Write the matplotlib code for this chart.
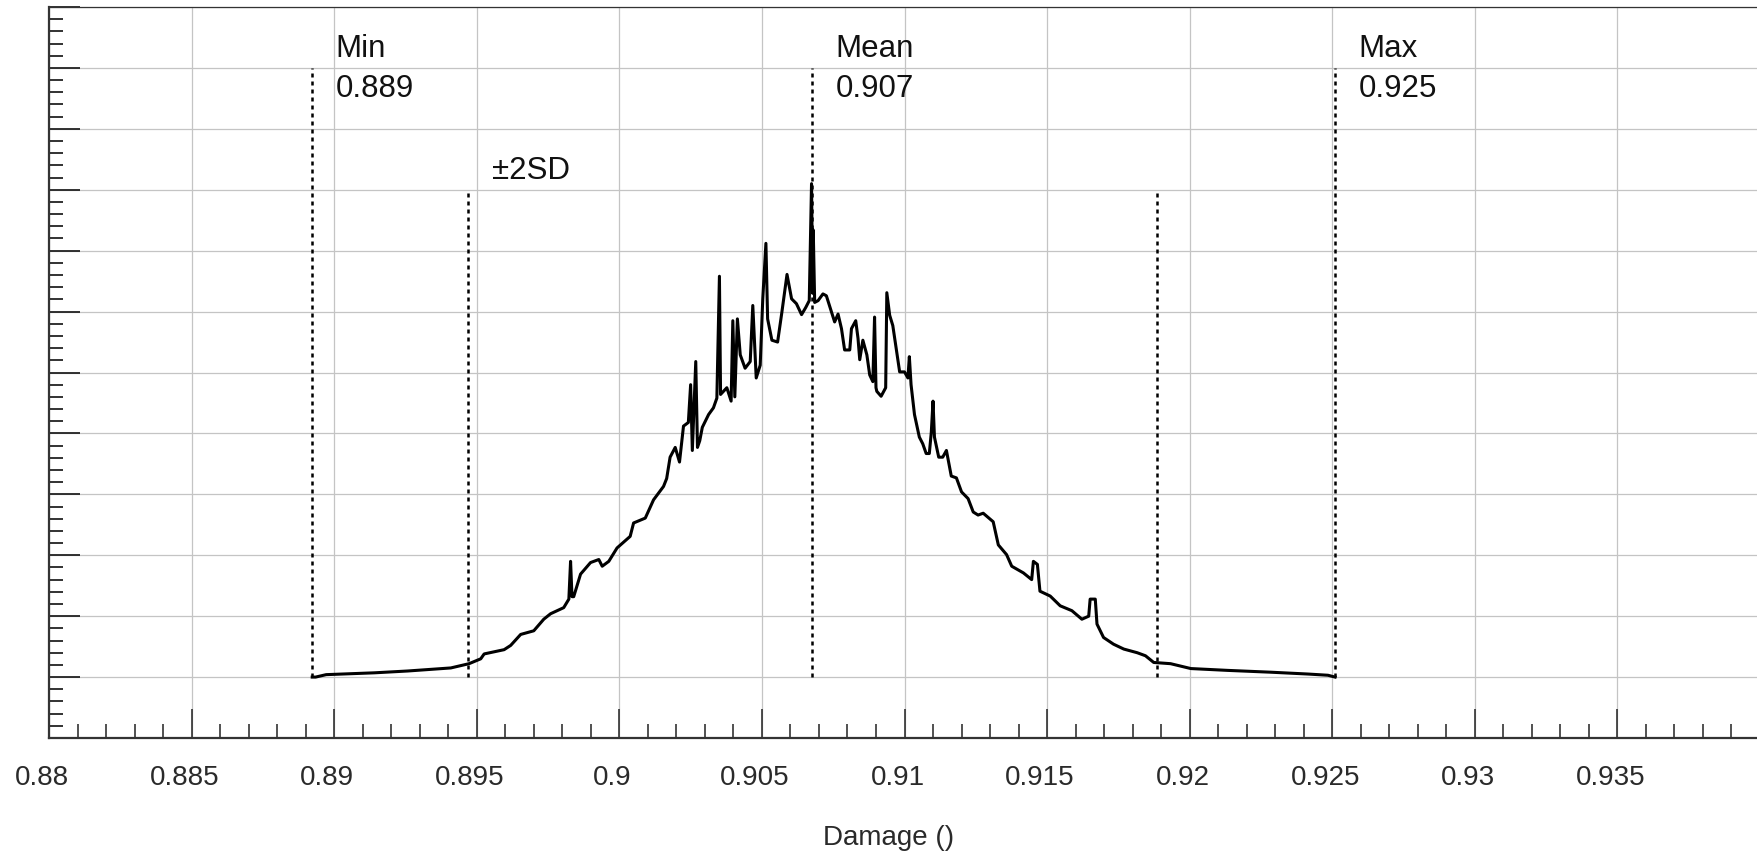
import numpy as np
import matplotlib
matplotlib.use("Agg")
import matplotlib.pyplot as plt
from matplotlib.ticker import MultipleLocator, FixedLocator, NullFormatter
from matplotlib.transforms import ScaledTranslation

# ---- data -----------------------------------------------------------------
damage = [
    0.88923, 0.88935, 0.88972, 0.89141, 0.89258, 0.89409, 0.89473, 0.89514, 0.89526, 0.89596,
    0.89619, 0.89654, 0.89700, 0.89735, 0.89759, 0.89805, 0.89823, 0.89829, 0.89834, 0.89840,
    0.89864, 0.89899, 0.89928, 0.89940, 0.89963, 0.89992, 0.90038, 0.90050, 0.90091, 0.90120,
    0.90155, 0.90166, 0.90178, 0.90196, 0.90211, 0.90225, 0.90242, 0.90250, 0.90256, 0.90268,
    0.90274, 0.90282, 0.90291, 0.90313, 0.90330, 0.90342, 0.90351, 0.90355, 0.90377, 0.90392,
    0.90398, 0.90405, 0.90414, 0.90424, 0.90441, 0.90459, 0.90468, 0.90480, 0.90494, 0.90503,
    0.90514, 0.90520, 0.90535, 0.90555, 0.90570, 0.90588, 0.90604, 0.90621, 0.90639, 0.90654,
    0.90666, 0.90674, 0.90678, 0.90680, 0.90685, 0.90697, 0.90714, 0.90726, 0.90744, 0.90755,
    0.90767, 0.90779, 0.90790, 0.90808, 0.90814, 0.90829, 0.90837, 0.90843, 0.90854, 0.90868,
    0.90878, 0.90889, 0.90895, 0.90900, 0.90903, 0.90918, 0.90934, 0.90938, 0.90948, 0.90959,
    0.90971, 0.90983, 0.91000, 0.91012, 0.91017, 0.91023, 0.91035, 0.91052, 0.91064, 0.91076,
    0.91087, 0.91094, 0.91100, 0.91105, 0.91120, 0.91134, 0.91147, 0.91164, 0.91182, 0.91200,
    0.91223, 0.91241, 0.91258, 0.91276, 0.91311, 0.91329, 0.91358, 0.91376, 0.91417, 0.91446,
    0.91452, 0.91466, 0.91475, 0.91511, 0.91546, 0.91587, 0.91622, 0.91646, 0.91651, 0.91669,
    0.91675, 0.91698, 0.91733, 0.91769, 0.91816, 0.91845, 0.91874, 0.91933, 0.92004, 0.92133,
    0.92285, 0.92415, 0.92485, 0.92510,
]
density = [
    1.00, 1.00, 1.04, 1.07, 1.10, 1.15, 1.22, 1.30, 1.38, 1.45,
    1.52, 1.70, 1.76, 1.95, 2.04, 2.14, 2.28, 2.90, 2.32, 2.32,
    2.69, 2.88, 2.93, 2.82, 2.90, 3.12, 3.31, 3.53, 3.61, 3.91,
    4.13, 4.26, 4.61, 4.77, 4.53, 5.12, 5.18, 5.80, 4.72, 6.18,
    4.77, 4.88, 5.10, 5.31, 5.42, 5.58, 7.58, 5.64, 5.75, 5.53,
    6.85, 5.60, 6.88, 6.29, 6.07, 6.18, 7.10, 5.91, 6.12, 7.21,
    8.12, 6.88, 6.53, 6.50, 6.99, 7.61, 7.21, 7.13, 6.95, 7.07,
    7.18, 9.10, 7.30, 8.34, 7.15, 7.18, 7.29, 7.26, 6.99, 6.83,
    6.96, 6.72, 6.37, 6.37, 6.72, 6.85, 6.56, 6.21, 6.53, 6.29,
    5.96, 5.85, 6.91, 5.75, 5.69, 5.61, 5.75, 7.31, 6.94, 6.77,
    6.39, 6.01, 6.01, 5.91, 6.26, 5.80, 5.31, 4.94, 4.83, 4.67,
    4.67, 5.02, 5.53, 4.94, 4.61, 4.61, 4.72, 4.30, 4.27, 4.04,
    3.93, 3.71, 3.66, 3.69, 3.55, 3.17, 3.01, 2.82, 2.71, 2.60,
    2.90, 2.85, 2.41, 2.33, 2.17, 2.09, 1.95, 2.00, 2.28, 2.28,
    1.87, 1.65, 1.54, 1.46, 1.40, 1.35, 1.24, 1.22, 1.14, 1.11,
    1.08, 1.05, 1.03, 1.00,
]

marker_x = [0.88923, 0.89469, 0.90676, 0.91885, 0.92510]
marker_top = [11, 9, 11, 9, 11]
marker_name = ["Min", "\u00b12SD", "Mean", "", "Max"]
marker_value = ["0.889", "", "0.907", "", "0.925"]
baseline = 1.0

xticks_major = [0.88, 0.885, 0.89, 0.895, 0.9, 0.905, 0.91, 0.915, 0.92, 0.925, 0.93, 0.935]
xtick_labels = ["0.88", "0.885", "0.89", "0.895", "0.9", "0.905", "0.91", "0.915",
                "0.92", "0.925", "0.93", "0.935"]
x_label = "Damage ()"

# ---- figure ---------------------------------------------------------------
plt.rcParams['font.family'] = ['Liberation Sans', 'DejaVu Sans']
W, H, DPI = 1757, 854, 100
fig = plt.figure(figsize=(W / DPI, H / DPI), dpi=DPI)
L, R, T, B = 49, 1760, 8, 739
ax = fig.add_axes([L / W, (H - B) / H, (R - L) / W, (B - T) / H])

ax.set_xlim(0.88, 0.94)
ax.set_ylim(0, 12)

# grid
ax.set_axisbelow(True)
ax.xaxis.set_major_locator(FixedLocator(xticks_major + [0.94]))
ax.xaxis.set_minor_locator(MultipleLocator(0.001))
ax.yaxis.set_major_locator(MultipleLocator(1))
ax.yaxis.set_minor_locator(MultipleLocator(0.2))
ax.grid(True, which='major', color='#c4c4c4', linewidth=0.9)

ax.set_xticklabels(xtick_labels + [""])
ax.yaxis.set_major_formatter(NullFormatter())

ax.tick_params(axis='x', which='major', direction='in', length=21, width=1.1,
               color='#222222', labelsize=20, labelcolor='#2a2a2a', pad=19)
ax.tick_params(axis='x', which='minor', direction='in', length=10, width=1.1, color='#222222')
ax.tick_params(axis='y', which='major', direction='in', length=22, width=1.3, color='#222222')
ax.tick_params(axis='y', which='minor', direction='in', length=10, width=1.3, color='#222222')

shift = ScaledTranslation(-7 / DPI, 0, fig.dpi_scale_trans)
for lab in ax.get_xticklabels():
    lab.set_transform(lab.get_transform() + shift)

for side in ['left', 'bottom']:
    ax.spines[side].set_color('#333333')
    ax.spines[side].set_linewidth(1.6)
ax.spines['top'].set_color('#333333')
ax.spines['top'].set_linewidth(0.9)
ax.spines['right'].set_visible(False)

# curve
ax.plot(damage, density, color='black', linewidth=2.2, zorder=3)

# marker lines and text
for xm, top, name, val in zip(marker_x, marker_top, marker_name, marker_value):
    ax.plot([xm, xm], [baseline, top], color='black', linewidth=1.8,
            linestyle=(0, (1.6, 1.6)), zorder=4)
    if name:
        ax.annotate(name, xy=(xm, top), xytext=(17, 8.5), textcoords='offset points',
                    fontsize=22.5, color='#111111', ha='left', va='baseline')
    if val:
        ax.annotate(val, xy=(xm, top), xytext=(17, -20), textcoords='offset points',
                    fontsize=22.5, color='#111111', ha='left', va='baseline')

ax.set_xlabel(x_label, fontsize=20, color='#2a2a2a')
ax.xaxis.set_label_coords((889 - L) / (R - L), -(838 - B) / (B - T))
ax.xaxis.label.set_va('center')

fig.savefig("out.png", dpi=DPI)
